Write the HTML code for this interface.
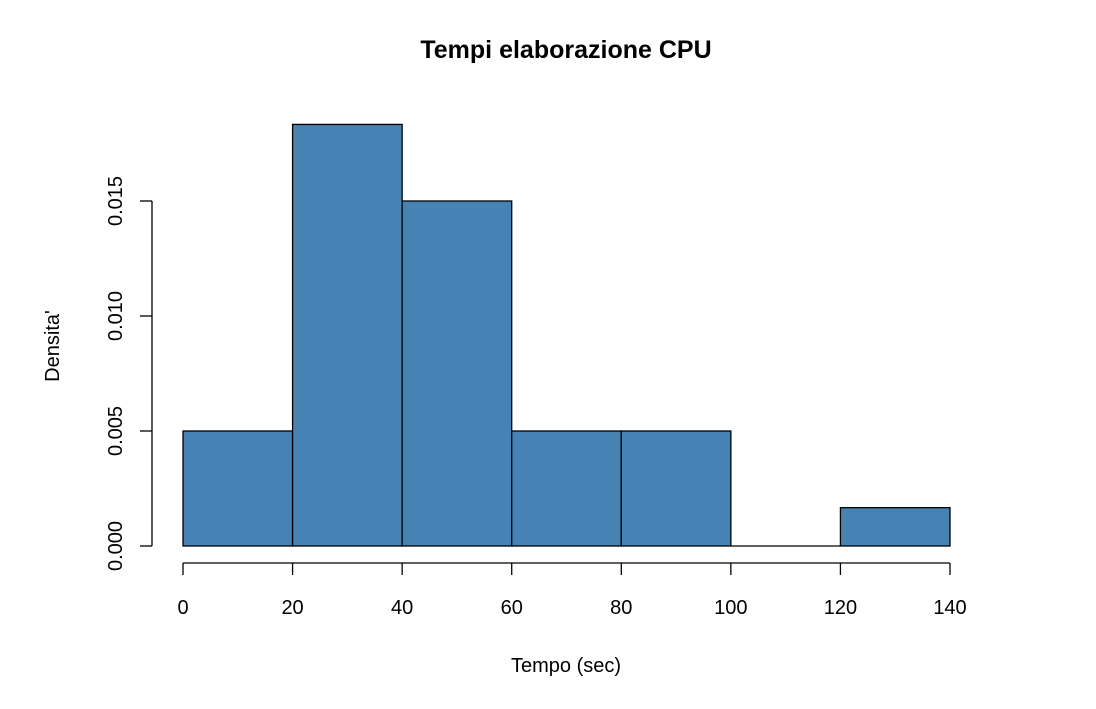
<!DOCTYPE html>
<html><head><meta charset="utf-8"><style>
html,body{margin:0;padding:0;background:#fff;}
svg text{font-family:"Liberation Sans",Arial,sans-serif;fill:#000;}
</style></head><body>
<svg id="chart" width="1096" height="704" viewBox="0 0 1096 704">
<text x="566" y="58" text-anchor="middle" font-size="25" font-weight="bold">Tempi elaborazione CPU</text>
<text x="566" y="672" text-anchor="middle" font-size="20">Tempo (sec)</text>
<text transform="translate(59,346) rotate(-90)" text-anchor="middle" font-size="20">Densita'</text>
<g id="bars"></g>
<g id="xaxis"></g>
<g id="yaxis"></g>
</svg>
<script>
const breaks = [0,20,40,60,80,100,120,140];
const densities = [0.005,0.01833,0.015,0.005,0.005,0,0.001667];
const xTicks = [0,20,40,60,80,100,120,140];
const yTicks = [0,0.005,0.010,0.015];
const yTickLabels = ["0.000","0.005","0.010","0.015"];
const NS="http://www.w3.org/2000/svg";
const xs = v => 183 + (v-0)*(950-183)/140;
const ys = v => 546 - v*(345/0.015);
function mk(tag, attrs, parent){const e=document.createElementNS(NS,tag);for(const k in attrs)e.setAttribute(k,attrs[k]);parent.appendChild(e);return e;}
const bars=document.getElementById('bars');
densities.forEach((d,i)=>{
  const x0=xs(breaks[i]), x1=xs(breaks[i+1]), y=ys(d);
  const r=mk('rect',{x:x0,y:y,width:x1-x0,height:ys(0)-y,fill:'#4682b4',stroke:'#000','stroke-width':1.3},bars);
  
  
  if(d===0){const l=mk('line',{x1:x0,x2:x1,y1:ys(0),y2:ys(0),stroke:'#000','stroke-width':1.3},bars);
    
    }
});
const xa=document.getElementById('xaxis');
const xl=mk('line',{x1:xs(xTicks[0]),x2:xs(xTicks[xTicks.length-1]),y1:563,y2:563,stroke:'#000','stroke-width':1.3},xa);


xTicks.forEach(t=>{
  const tk=mk('line',{x1:xs(t),x2:xs(t),y1:563,y2:575,stroke:'#000','stroke-width':1.3},xa);
  
  
  const tx=mk('text',{x:xs(t),y:614,'text-anchor':'middle','font-size':20},xa);
  tx.textContent=t;
  
  
});
const ya=document.getElementById('yaxis');
const yl=mk('line',{x1:152,x2:152,y1:ys(yTicks[0]),y2:ys(yTicks[yTicks.length-1]),stroke:'#000','stroke-width':1.3},ya);


yTicks.forEach((t,i)=>{
  const tk=mk('line',{x1:140,x2:152,y1:ys(t),y2:ys(t),stroke:'#000','stroke-width':1.3},ya);
  
  
  const tx=mk('text',{transform:'translate(122,'+ys(t)+') rotate(-90)','text-anchor':'middle','font-size':20},ya);
  tx.textContent=yTickLabels[i];
  
  
});
</script>
</body></html>
